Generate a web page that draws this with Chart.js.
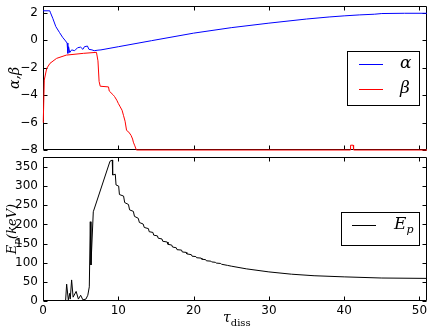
<!DOCTYPE html>
<html>
<head>
<meta charset="utf-8">
<script src="https://cdn.jsdelivr.net/npm/chart.js@4/dist/chart.umd.min.js"></script>
<style>
  body { margin: 0; background: #fff; }
  #wrap { position: relative; width: 436px; height: 327px; overflow: hidden; }
  canvas { position: absolute; left: 0; }
  .lab { position: absolute; white-space: nowrap; color: #000; font-family: "DejaVu Serif", serif; }
  .rot { transform: translate(-50%, -50%) rotate(-90deg); }
</style>
</head>
<body>
<div id="wrap">
  <canvas id="top" width="436" height="155" style="top:0"></canvas>
  <canvas id="bottom" width="436" height="172" style="top:155px"></canvas>
  <div class="lab rot" style="left:14px; top:78px; font-size:14px; font-style:italic;">α,β</div>
  <div class="lab rot" style="left:13px; top:229px; font-size:13px; font-style:italic;">E<sub style="font-size:9px">p</sub>(keV)</div>
  <div class="lab" style="left:223px; top:309px; font-size:14px;"><i>τ</i><sub style="font-size:10px">diss</sub></div>
</div>
<script>
// tau (x) and values for each series
var alphaTau = [0, 0.9, 1.0, 1.3, 1.7, 2.2, 2.6, 3.0, 3.2, 3.3, 3.4, 3.55, 3.8, 4.2, 4.6, 5.0, 5.3, 5.5, 5.9, 6.1, 6.5, 6.8, 7.3, 7.7, 10, 14.4, 20, 25, 30, 35, 38, 40, 42, 44, 45, 48, 51];
var alphaVal = [2.15, 2.15, 2.0, 1.6, 1.0, 0.56, 0.22, -0.05, -0.2, -0.95, -0.47, -0.9, -0.7, -0.76, -0.54, -0.5, -0.66, -0.47, -0.42, -0.66, -0.7, -0.76, -0.72, -0.7, -0.47, -0.03, 0.52, 0.92, 1.25, 1.55, 1.7, 1.78, 1.85, 1.9, 1.95, 1.97, 1.97];

var betaTau = [0, 0.04, 0.17, 0.49, 0.93, 1.8, 3.1, 5.4, 7.1, 7.3, 7.45, 7.6, 8.7, 8.8, 9.35, 9.5, 9.8, 10.0, 10.2, 10.5, 10.7, 10.9, 11.1, 11.4, 11.7, 11.9, 12.0, 12.2, 12.4, 40.8, 40.85, 41.2, 41.25, 51];
var betaVal = [-6.0, -5.84, -2.9, -2.05, -1.68, -1.32, -1.08, -0.95, -0.88, -1.5, -3.0, -3.35, -3.4, -3.7, -4.0, -4.1, -4.37, -4.6, -4.8, -5.1, -5.5, -5.9, -6.57, -6.7, -6.94, -7.2, -7.43, -7.7, -8.0, -8.0, -7.65, -7.65, -8.0, -8.0];

var epTau = [0, 3.0, 3.14, 3.36, 3.55, 3.62, 3.8, 4.0, 4.4, 4.7, 5.0, 5.3, 5.7, 5.95, 6.15, 6.28, 6.37, 6.68, 8.9, 9.2, 9.25, 9.6, 9.7, 10.05, 10.15, 10.7, 10.85, 11.35, 11.5, 12.0, 12.15, 12.65, 12.8, 13.3, 13.45, 14.0, 14.1, 14.6, 14.7, 15.2, 15.3, 15.8, 15.9, 16.5, 16.6, 17.1, 17.2, 17.7, 17.8, 18.4, 18.5, 19.0, 19.1, 19.7, 19.8, 20.3, 20.4, 21.0, 21.1, 21.6, 21.7, 22.3, 22.4, 22.9, 23.0, 23.6, 23.7, 24.5, 25, 27, 30, 33, 36, 40, 45, 51];
var epVal = [0, 0, 44, 3, 20, 5, 55, 10, 25, 5, 15, 3, 5, 15, 37, 207, 94, 233, 365, 368, 329, 331, 303, 300, 278, 274, 257, 252, 238, 234, 221, 216, 205, 201, 192, 189, 181, 179, 172, 170, 164, 162, 156, 154, 148, 146, 141, 139, 134, 133, 128, 127, 123, 121, 117, 116, 113, 112, 109, 108, 105, 104, 102, 101, 99, 98, 96, 93, 91, 84, 76, 70, 66, 63, 60, 59];

function pts(xs, ys) {
  return xs.map(function(x, i) { return {x: x, y: ys[i]}; });
}

function minus(v) {
  return v < 0 ? '\u2212' + Math.abs(v) : '' + v;
}

// matplotlib style box with ticks pointing inwards on all four sides
var frameTicks = {
  id: 'frameTicks',
  beforeDatasetsDraw: function(chart) {
    var a = chart.chartArea, ctx = chart.ctx;
    var xs = chart.scales.x, ys = chart.scales.y;
    var l = Math.round(a.left) + 0.5, r = Math.round(a.right) - 0.5;
    var t = Math.round(a.top) + 0.5, b = Math.round(a.bottom) - 0.5;
    ctx.save();
    ctx.strokeStyle = '#000';
    ctx.lineWidth = 1;
    ctx.beginPath();
    xs.ticks.forEach(function(tk) {
      var px = Math.round(xs.getPixelForValue(tk.value)) + 0.5;
      ctx.moveTo(px, b); ctx.lineTo(px, b - 4);
      ctx.moveTo(px, t); ctx.lineTo(px, t + 4);
    });
    ys.ticks.forEach(function(tk) {
      var py = Math.round(ys.getPixelForValue(tk.value)) + 0.5;
      ctx.moveTo(l, py); ctx.lineTo(l + 4, py);
      ctx.moveTo(r, py); ctx.lineTo(r - 4, py);
    });
    ctx.moveTo(l, t); ctx.lineTo(r, t); ctx.lineTo(r, b); ctx.lineTo(l, b); ctx.closePath();
    ctx.stroke();
    ctx.restore();
  }
};

var boxLegend = {
  id: 'boxLegend',
  afterDraw: function(chart, args, opts) {
    var ctx = chart.ctx;
    ctx.save();
    ctx.fillStyle = '#fff';
    ctx.fillRect(opts.x, opts.y, opts.w, opts.h);
    ctx.strokeStyle = '#000';
    ctx.lineWidth = 1;
    ctx.strokeRect(opts.x + 0.5, opts.y + 0.5, opts.w, opts.h);
    opts.items.forEach(function(it) {
      ctx.strokeStyle = it.color;
      ctx.beginPath();
      ctx.moveTo(opts.lx0, it.ly + 0.5);
      ctx.lineTo(opts.lx1, it.ly + 0.5);
      ctx.stroke();
      ctx.fillStyle = '#000';
      ctx.textBaseline = 'middle';
      ctx.font = 'italic 17px "DejaVu Serif"';
      ctx.fillText(it.label, opts.tx, it.ly);
      if (it.sub) {
        var w = ctx.measureText(it.label).width;
        ctx.font = 'italic 11px "DejaVu Serif"';
        ctx.fillText(it.sub, opts.tx + w, it.ly + 5);
      }
    });
    ctx.restore();
  }
};

function scales(yMin, yMax, yStep, showX, xHeight) {
  return {
    x: {
      type: 'linear', min: 0, max: 51,
      grid: { drawOnChartArea: false, drawTicks: false },
      border: { display: false },
      ticks: {
        display: showX, stepSize: 10, includeBounds: false, padding: 3,
        color: '#000', font: { family: 'DejaVu Sans', size: 12 }
      },
      afterFit: function(s) { s.height = xHeight; s.paddingLeft = 0; s.paddingRight = 0; }
    },
    y: {
      type: 'linear', min: yMin, max: yMax,
      grid: { drawOnChartArea: false, drawTicks: false },
      border: { display: false },
      ticks: {
        stepSize: yStep, includeBounds: false, padding: 5,
        color: '#000', font: { family: 'DejaVu Sans', size: 12 },
        callback: function(v) { return minus(v); }
      },
      afterFit: function(s) { s.width = 43; s.paddingTop = 0; s.paddingBottom = 0; }
    }
  };
}

new Chart(document.getElementById('top'), {
  type: 'line',
  data: {
    datasets: [
      { label: 'alpha', data: pts(alphaTau, alphaVal), borderColor: '#0000ff', borderWidth: 1, pointRadius: 0, tension: 0 },
      { label: 'beta', data: pts(betaTau, betaVal), borderColor: '#ff0000', borderWidth: 1, pointRadius: 0, tension: 0, clip: 3 }
    ]
  },
  options: {
    responsive: false, animation: false,
    layout: { padding: { top: 6, right: 9, bottom: 0, left: 0 } },
    scales: scales(-8, 2.5, 2, false, 5),
    plugins: {
      legend: { display: false },
      tooltip: { enabled: false },
      boxLegend: {
        x: 347, y: 51, w: 72, h: 54, lx0: 359, lx1: 383, tx: 400,
        items: [
          { color: '#0000ff', label: 'α', ly: 64 },
          { color: '#ff0000', label: 'β', ly: 89 }
        ]
      }
    }
  },
  plugins: [frameTicks, boxLegend]
});

new Chart(document.getElementById('bottom'), {
  type: 'line',
  data: {
    datasets: [
      { label: 'Ep', data: pts(epTau, epVal), borderColor: '#000', borderWidth: 1, pointRadius: 0, tension: 0 }
    ]
  },
  options: {
    responsive: false, animation: false,
    layout: { padding: { top: 2, right: 9, bottom: 0, left: 0 } },
    scales: scales(0, 376, 50, true, 26),
    plugins: {
      legend: { display: false },
      tooltip: { enabled: false },
      boxLegend: {
        x: 341, y: 57, w: 78, h: 33, lx0: 352, lx1: 376, tx: 394,
        items: [
          { color: '#000', label: 'E', sub: 'p', ly: 70 }
        ]
      }
    }
  },
  plugins: [frameTicks, boxLegend]
});
</script>
</body>
</html>
